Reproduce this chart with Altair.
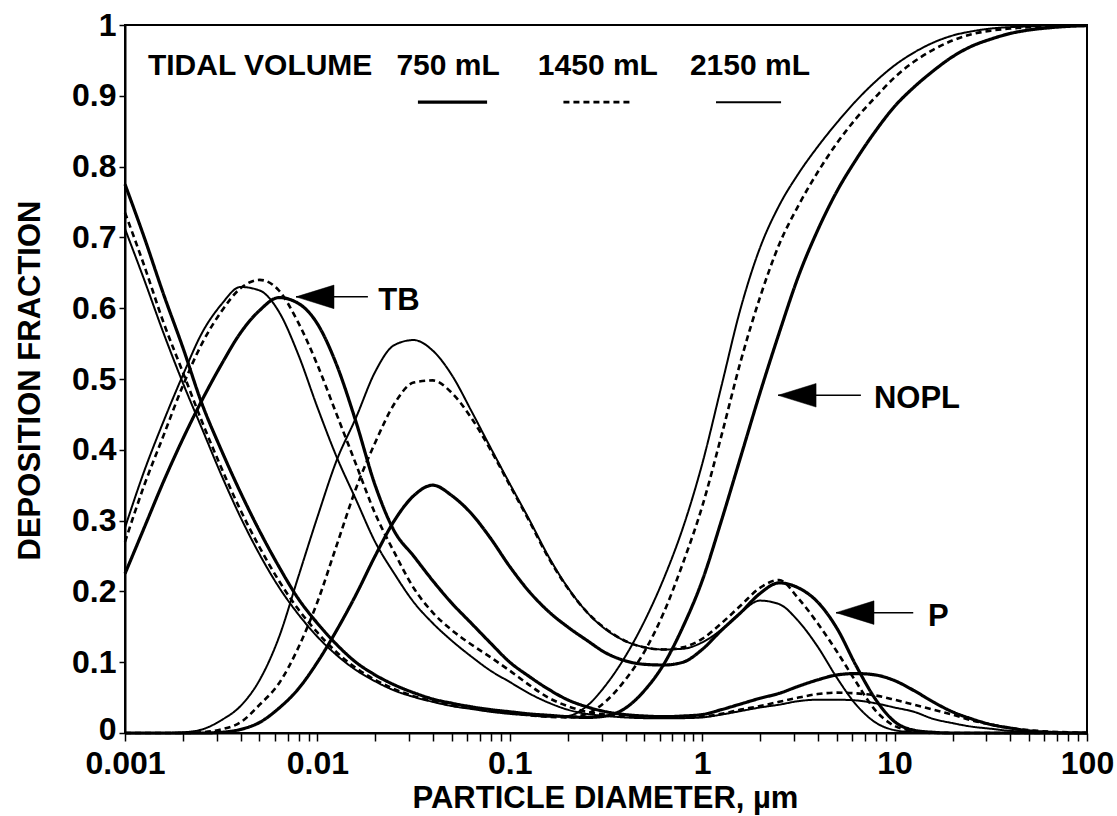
import altair as alt
import pandas as pd

# ---------------- data ----------------
LOG_D = [-3.0, -2.9, -2.8, -2.7, -2.6, -2.5, -2.4, -2.3, -2.2, -2.1,
         -2.0, -1.9, -1.8, -1.7, -1.6, -1.5, -1.4, -1.3, -1.2, -1.1,
         -1.0, -0.9, -0.8, -0.7, -0.6, -0.5, -0.4, -0.3, -0.2, -0.1,
         0.0, 0.1, 0.2, 0.3, 0.4, 0.5, 0.6, 0.7, 0.8, 0.9,
         1.0, 1.1, 1.2, 1.3, 1.4, 1.5, 1.6, 1.7, 1.8, 1.9, 2.0]

VOLUMES = ["750 mL", "1450 mL", "2150 mL"]

NOPL_750 = [0.775, 0.70, 0.62, 0.545, 0.465, 0.40, 0.34, 0.285, 0.235, 0.19,
            0.155, 0.125, 0.10, 0.082, 0.068, 0.057, 0.048, 0.042, 0.037, 0.033,
            0.030, 0.027, 0.025, 0.023, 0.022, 0.024, 0.035, 0.06, 0.097, 0.15,
            0.215, 0.30, 0.39, 0.48, 0.565, 0.645, 0.71, 0.765, 0.81, 0.85,
            0.885, 0.912, 0.935, 0.955, 0.97, 0.98, 0.988, 0.993, 0.996, 0.998, 0.999]
NOPL_1450 = [0.735, 0.66, 0.58, 0.51, 0.44, 0.375, 0.315, 0.262, 0.215, 0.175,
             0.142, 0.114, 0.092, 0.075, 0.062, 0.052, 0.045, 0.039, 0.035, 0.031,
             0.028, 0.025, 0.023, 0.022, 0.027, 0.045, 0.075, 0.115, 0.17, 0.24,
             0.32, 0.42, 0.525, 0.615, 0.69, 0.745, 0.792, 0.833, 0.868, 0.898,
             0.926, 0.948, 0.965, 0.978, 0.987, 0.992, 0.995, 0.997, 0.998, 0.999, 0.999]
NOPL_2150 = [0.712, 0.64, 0.565, 0.495, 0.43, 0.365, 0.305, 0.252, 0.206, 0.168,
             0.136, 0.11, 0.089, 0.073, 0.06, 0.051, 0.044, 0.038, 0.034, 0.03,
             0.027, 0.025, 0.023, 0.024, 0.038, 0.068, 0.108, 0.158, 0.218, 0.29,
             0.38, 0.49, 0.6, 0.685, 0.745, 0.79, 0.828, 0.862, 0.893, 0.92,
             0.943, 0.961, 0.975, 0.985, 0.991, 0.995, 0.997, 0.998, 0.999, 0.999, 1.0]

TB_750 = [0.225, 0.29, 0.355, 0.415, 0.47, 0.52, 0.565, 0.597, 0.615, 0.607,
          0.578, 0.52, 0.44, 0.35, 0.285, 0.25, 0.215, 0.183, 0.155, 0.127,
          0.10, 0.08, 0.062, 0.047, 0.037, 0.03, 0.026, 0.024, 0.023, 0.024,
          0.026, 0.033, 0.041, 0.049, 0.056, 0.066, 0.075, 0.082, 0.084, 0.082,
          0.074, 0.06, 0.044, 0.03, 0.02, 0.012, 0.007, 0.003, 0.001, 0.0, 0.0]
TB_1450 = [0.27, 0.35, 0.42, 0.49, 0.55, 0.595, 0.628, 0.64, 0.625, 0.58,
           0.52, 0.45, 0.38, 0.31, 0.255, 0.205, 0.17, 0.145, 0.125, 0.107,
           0.088, 0.068, 0.05, 0.038, 0.03, 0.026, 0.024, 0.023, 0.022, 0.022,
           0.023, 0.027, 0.033, 0.038, 0.044, 0.05, 0.055, 0.057, 0.056, 0.053,
           0.047, 0.04, 0.033, 0.026, 0.018, 0.012, 0.007, 0.004, 0.002, 0.001, 0.0]
TB_2150 = [0.29, 0.37, 0.44, 0.505, 0.565, 0.605, 0.63, 0.625, 0.595, 0.535,
           0.46, 0.39, 0.33, 0.27, 0.225, 0.185, 0.155, 0.13, 0.108, 0.088,
           0.072, 0.056, 0.043, 0.033, 0.027, 0.024, 0.022, 0.021, 0.021, 0.021,
           0.022, 0.026, 0.031, 0.036, 0.04, 0.045, 0.047, 0.047, 0.046, 0.042,
           0.036, 0.03, 0.02, 0.014, 0.009, 0.006, 0.003, 0.002, 0.001, 0.0, 0.0]

P_750 = [0.0, 0.0, 0.0, 0.0, 0.0, 0.001, 0.005, 0.015, 0.035, 0.062,
         0.1, 0.145, 0.195, 0.25, 0.3, 0.335, 0.35, 0.335, 0.31, 0.275,
         0.235, 0.2, 0.172, 0.15, 0.131, 0.113, 0.102, 0.097, 0.096, 0.1,
         0.118, 0.145, 0.17, 0.197, 0.212, 0.205, 0.185, 0.148, 0.095, 0.048,
         0.016, 0.004, 0.001, 0.0, 0.0, 0.0, 0.0, 0.0, 0.0, 0.0, 0.0]
P_1450 = [0.0, 0.0, 0.0, 0.0, 0.001, 0.005, 0.015, 0.04, 0.07, 0.12,
          0.185, 0.265, 0.345, 0.41, 0.465, 0.495, 0.498, 0.48, 0.445, 0.4,
          0.35, 0.3, 0.248, 0.205, 0.171, 0.147, 0.13, 0.121, 0.118, 0.121,
          0.133, 0.155, 0.18, 0.205, 0.216, 0.19, 0.155, 0.115, 0.072, 0.032,
          0.01, 0.003, 0.0, 0.0, 0.0, 0.0, 0.0, 0.0, 0.0, 0.0, 0.0]
P_2150 = [0.0, 0.0, 0.0, 0.001, 0.005, 0.018, 0.038, 0.075, 0.135, 0.22,
          0.305, 0.385, 0.445, 0.51, 0.548, 0.555, 0.54, 0.505, 0.455, 0.403,
          0.352, 0.302, 0.25, 0.206, 0.171, 0.146, 0.13, 0.121, 0.118, 0.119,
          0.128, 0.146, 0.17, 0.187, 0.182, 0.158, 0.122, 0.078, 0.04, 0.015,
          0.004, 0.001, 0.0, 0.0, 0.0, 0.0, 0.0, 0.0, 0.0, 0.0, 0.0]

SERIES = {
    ("NOPL", "750 mL"): NOPL_750, ("NOPL", "1450 mL"): NOPL_1450, ("NOPL", "2150 mL"): NOPL_2150,
    ("TB", "750 mL"): TB_750, ("TB", "1450 mL"): TB_1450, ("TB", "2150 mL"): TB_2150,
    ("P", "750 mL"): P_750, ("P", "1450 mL"): P_1450, ("P", "2150 mL"): P_2150,
}

# legend (inside plot, top)
LEG_TEXT = ["TIDAL VOLUME", "750 mL", "1450 mL", "2150 mL"]
LEG_TEXT_X = [0.00504, 0.0478, 0.287, 1.77]
LEG_TEXT_Y = 0.93
LEG_LINE_X1 = [0.0333, 0.19, 1.18]
LEG_LINE_X2 = [0.0762, 0.427, 2.57]
LEG_LINE_Y = 0.891

# arrows
ARROW_LABEL = ["TB", "NOPL", "P"]
ARROW_TIP_X = [0.00774, 2.48, 4.96]
ARROW_END_X = [0.0183, 6.68, 12.5]
ARROW_Y = [0.616, 0.477, 0.17]
LABEL_X = [0.0207, 7.81, 14.9]
LABEL_Y = [0.61, 0.472, 0.164]

X_TICKS = [m * 10.0 ** e for e in range(-3, 2) for m in range(1, 10)] + [100.0]
Y_TICKS = [round(0.1 * i, 1) for i in range(11)]

# ---------------- build tables ----------------
rows = []
for (region, vol), vals in SERIES.items():
    for lx, v in zip(LOG_D, vals):
        rows.append({"d": 10 ** lx, "f": v, "curve": f"{region} {vol}", "vol": vol})
df = pd.DataFrame(rows)

leg_text = pd.DataFrame({"t": LEG_TEXT, "x": LEG_TEXT_X, "y": [LEG_TEXT_Y] * 4})
leg_line = pd.DataFrame({"vol": VOLUMES, "x": LEG_LINE_X1, "x2": LEG_LINE_X2, "y": [LEG_LINE_Y] * 3})
arrows = pd.DataFrame({"t": ARROW_LABEL, "tip": ARROW_TIP_X, "end": ARROW_END_X,
                       "y": ARROW_Y, "lx": LABEL_X, "ly": LABEL_Y})

FONT = "Liberation Sans"
xscale = alt.Scale(type="log", domain=[0.001, 100], nice=False)
yscale = alt.Scale(domain=[0, 1], nice=False)

width_scale = alt.Scale(domain=VOLUMES, range=[3.2, 2.0, 1.2])
dash_scale = alt.Scale(domain=VOLUMES, range=[[1, 0], [6, 4], [1, 0]])

label_expr = ("abs(log(datum.value)/LN10 - round(log(datum.value)/LN10)) < 1e-6 ? "
              "format(datum.value, '~g') : ''")

xaxis = alt.Axis(values=X_TICKS, labelExpr=label_expr, tickSize=8, tickWidth=1.5,
                 tickColor="black", domainColor="black", domainWidth=2,
                 labelFont=FONT, labelFontSize=32, labelFontWeight="bold", labelColor="black",
                 labelPadding=7, labelFlush=False, labelOverlap=False, labelBound=False, grid=False,
                 title="PARTICLE DIAMETER, µm", titleFont=FONT, titleFontSize=31,
                 titleFontWeight="bold", titleColor="black", titleBaseline="alphabetic",
                 titleX=480, titleY=74)
yaxis = alt.Axis(values=Y_TICKS, format=".1~f", tickSize=6, tickWidth=1.5,
                 tickColor="black", domainColor="black", domainWidth=2,
                 labelFont=FONT, labelFontSize=32, labelFontWeight="bold", labelColor="black",
                 labelPadding=3, labelFlush=False, labelOverlap=False, grid=False,
                 labelOffset={"condition": {"test": "datum.value == 0", "value": -4}, "value": 0},
                 title="DEPOSITION FRACTION", titleFont=FONT, titleFontSize=31,
                 titleFontWeight="bold", titleColor="black", titleBaseline="alphabetic",
                 titleX=-86, titleY=355, titleAngle=-90)

lines = alt.Chart(df).mark_line(interpolate="monotone", color="black", strokeCap="butt").encode(
    x=alt.X("d:Q", scale=xscale, axis=xaxis),
    y=alt.Y("f:Q", scale=yscale, axis=yaxis),
    detail="curve:N",
    strokeWidth=alt.StrokeWidth("vol:N", scale=width_scale, legend=None),
    strokeDash=alt.StrokeDash("vol:N", scale=dash_scale, legend=None),
)

legend_text = alt.Chart(leg_text).mark_text(font=FONT, fontSize=30, fontWeight="bold", color="black",
                                            align="center", baseline="alphabetic").encode(
    x=alt.X("x:Q", scale=xscale), y=alt.Y("y:Q", scale=yscale), text="t:N")

legend_lines = alt.Chart(leg_line).mark_rule(color="black", strokeCap="butt").encode(
    x=alt.X("x:Q", scale=xscale), x2="x2:Q", y=alt.Y("y:Q", scale=yscale),
    strokeWidth=alt.StrokeWidth("vol:N", scale=width_scale, legend=None),
    strokeDash=alt.StrokeDash("vol:N", scale=dash_scale, legend=None))

arrow_lines = alt.Chart(arrows).mark_rule(color="black", strokeWidth=1.5).encode(
    x=alt.X("tip:Q", scale=xscale), x2="end:Q", y=alt.Y("y:Q", scale=yscale))

arrow_heads = alt.Chart(arrows).mark_point(
    shape="M 0 0 L 2 -0.62 L 2 0.62 Z", size=1444, filled=True, fill="black",
    stroke="black", strokeWidth=0.5, opacity=1).encode(
    x=alt.X("tip:Q", scale=xscale), y=alt.Y("y:Q", scale=yscale))

arrow_text = alt.Chart(arrows).mark_text(font=FONT, fontSize=31, fontWeight="bold", color="black",
                                         align="left", baseline="middle").encode(
    x=alt.X("lx:Q", scale=xscale), y=alt.Y("ly:Q", scale=yscale), text="t:N")

chart = alt.layer(lines, legend_lines, legend_text, arrow_lines, arrow_heads, arrow_text).properties(
    width=962, height=708,
    autosize=alt.AutoSizeParams(type="none"),
    padding={"left": 125, "top": 25, "right": 30, "bottom": 83},
    background="white",
).configure_view(stroke="black", strokeWidth=2)

chart.save("out.html", embed_options={"renderer": "svg", "actions": False})
